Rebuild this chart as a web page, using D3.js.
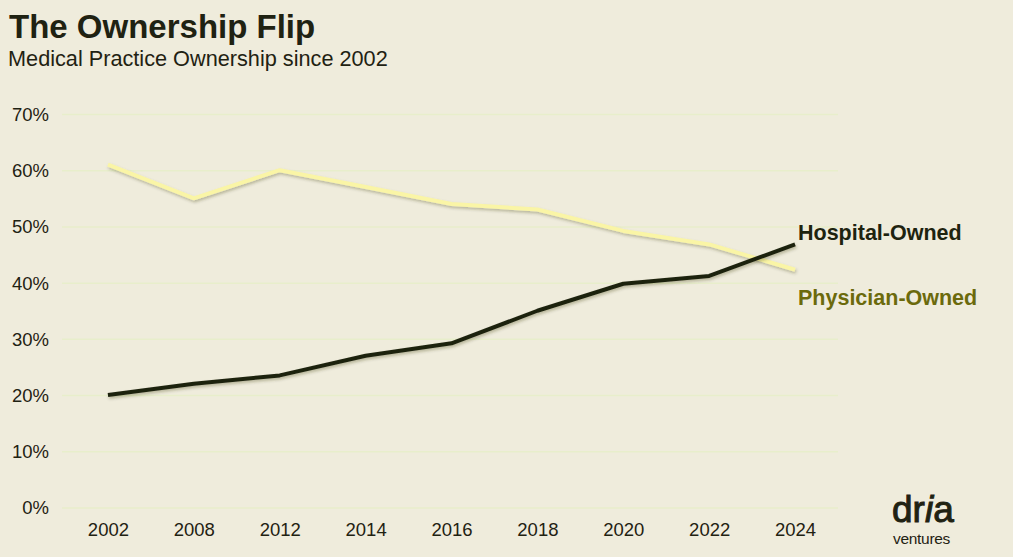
<!DOCTYPE html>
<html>
<head>
<meta charset="utf-8">
<script src="https://cdn.jsdelivr.net/npm/d3@7"></script>
<style>
  html, body { margin: 0; padding: 0; background: #efecdc; }
  svg { display: block; font-family: "Liberation Sans", Arial, sans-serif; }
</style>
</head>
<body>
<div id="chart"></div>
<script>
// Data
const years = ['2002', '2008', '2012', '2014', '2016', '2018', '2020', '2022', '2024'];
const physicianOwned = [61, 55, 60, 57, 54, 53, 49.2, 46.8, 42.3];
const hospitalOwned = [20, 22, 23.5, 27, 29.2, 35, 39.8, 41.2, 46.8];
const yTicks = [0, 10, 20, 30, 40, 50, 60, 70];

const width = 1013;
const height = 557;
const margin = { top: 114, right: 175, bottom: 50, left: 62 };

const svg = d3.select('#chart')
  .append('svg')
  .attr('width', width)
  .attr('height', height);

svg.append('rect')
  .attr('width', width)
  .attr('height', height)
  .attr('fill', '#efecdc');

// soft drop shadow under the lines
const defs = svg.append('defs');
defs.append('filter')
  .attr('id', 'shadow')
  .attr('x', '-5%').attr('y', '-20%')
  .attr('width', '110%').attr('height', '140%')
  .append('feDropShadow')
  .attr('dx', 1)
  .attr('dy', 2)
  .attr('stdDeviation', 1.5)
  .attr('flood-color', '#3a3a10')
  .attr('flood-opacity', 0.3);

const x = d3.scalePoint()
  .domain(years)
  .range([65, 838])
  .padding(0.5);

const y = d3.scaleLinear()
  .domain([0, 70])
  .range([507.5, 114]);

// Y axis with faint gridlines
const yAxis = svg.append('g')
  .attr('transform', `translate(${margin.left},0)`)
  .call(d3.axisLeft(y)
    .tickValues(yTicks)
    .tickFormat(d => d + '%')
    .tickSize(-(838 - margin.left))
    .tickPadding(13));
yAxis.select('.domain').remove();
yAxis.selectAll('line')
  .attr('stroke', '#e8eecb')
  .attr('stroke-width', 1.5);
yAxis.selectAll('text')
  .attr('fill', '#1f2212')
  .style('font-size', '18.5px')
  .attr('dy', '0.35em');

// X axis
const xAxis = svg.append('g')
  .attr('transform', `translate(0,${y(0)})`)
  .call(d3.axisBottom(x).tickSize(0).tickPadding(15));
xAxis.select('.domain').remove();
xAxis.selectAll('text')
  .attr('fill', '#1f2212')
  .style('font-size', '18.5px');

const line = d3.line()
  .x((d, i) => x(years[i]))
  .y(d => y(d));

// Physician-owned line
svg.append('path')
  .datum(physicianOwned)
  .attr('fill', 'none')
  .attr('stroke', '#faf5a6')
  .attr('stroke-width', 4)
  .attr('stroke-linejoin', 'round')
  .attr('filter', 'url(#shadow)')
  .attr('d', line);

// Hospital-owned line
svg.append('path')
  .datum(hospitalOwned)
  .attr('fill', 'none')
  .attr('stroke', '#1e230f')
  .attr('stroke-width', 4)
  .attr('stroke-linejoin', 'round')
  .attr('filter', 'url(#shadow)')
  .attr('d', line);

// Series labels
svg.append('text')
  .attr('x', 798)
  .attr('y', 240)
  .attr('fill', '#1e230f')
  .style('font-size', '21.5px')
  .style('font-weight', 'bold')
  .text('Hospital-Owned');

svg.append('text')
  .attr('x', 798)
  .attr('y', 305)
  .attr('fill', '#6b6a0c')
  .style('font-size', '21.5px')
  .style('font-weight', 'bold')
  .text('Physician-Owned');

// Title block
svg.append('text')
  .attr('x', 9)
  .attr('y', 38)
  .attr('fill', '#1f2212')
  .style('font-size', '33px')
  .style('font-weight', 'bold')
  .text('The Ownership Flip');

svg.append('text')
  .attr('x', 8)
  .attr('y', 66)
  .attr('fill', '#1f2212')
  .style('font-size', '21.7px')
  .text('Medical Practice Ownership since 2002');

// Logo: "dria" over "ventures"
const dria = svg.append('text')
  .attr('x', 892)
  .attr('y', 522)
  .attr('fill', '#1f2212')
  .attr('stroke', '#1f2212')
  .attr('stroke-width', 1)
  .style('font-size', '37px')
  .style('letter-spacing', '0px');
dria.append('tspan').text('dr');
dria.append('tspan').style('font-style', 'italic').text('i');
dria.append('tspan').text('a');

svg.append('text')
  .attr('x', 893)
  .attr('y', 544)
  .attr('fill', '#1f2212')
  .style('font-size', '15.5px')
  .style('letter-spacing', '-0.3px')
  .text('ventures');
</script>
</body>
</html>
